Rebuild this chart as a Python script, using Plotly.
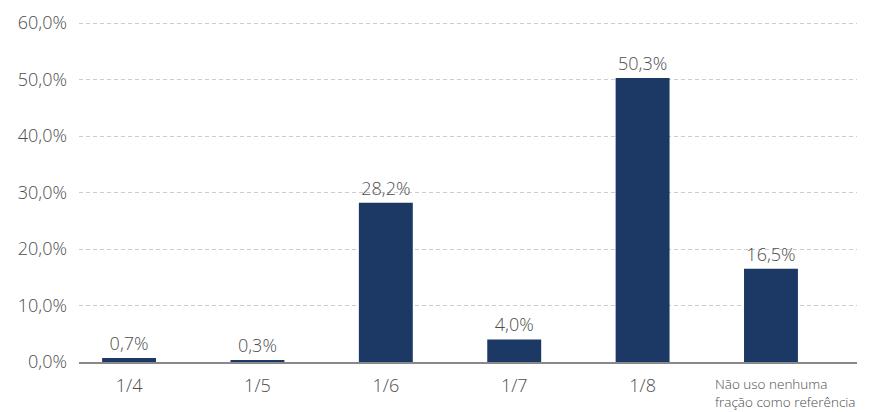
import plotly.graph_objects as go

categories = ["1/4", "1/5", "1/6", "1/7", "1/8", "Não uso nenhuma<br>fração como referência"]
values = [0.7, 0.3, 28.2, 4.0, 50.3, 16.5]
y_ticks = [0, 10, 20, 30, 40, 50, 60]

def pct(v):
    return f"{v:.1f}%".replace(".", ",")

FONT = "Open Sans"
GREY = "#4d4d4d"
# the page body adds an 8px offset, so the figure is 8px smaller each way
W, H = 877, 404

tick_text = categories[:-1] + [""]

fig = go.Figure(go.Bar(
    x=list(range(len(categories))),
    y=values,
    width=0.42,
    marker=dict(color="#1c3966", line=dict(width=0)),
    text=[pct(v) for v in values],
    textposition="outside",
    textfont=dict(family=FONT, size=18, color=GREY, weight=300),
    cliponaxis=False,
))

fig.add_annotation(
    x=len(categories) - 1, xref="x", y=0, yref="paper",
    text=categories[-1], showarrow=False, align="left",
    xanchor="left", yanchor="top", xshift=-58, yshift=-11,
    font=dict(family=FONT, size=13.5, color=GREY, weight=300),
)

fig.update_layout(
    width=W, height=H,
    margin=dict(l=71, r=28, t=14, b=50, autoexpand=False),
    paper_bgcolor="white", plot_bgcolor="white",
    showlegend=False,
    font=dict(family=FONT, size=18, color=GREY, weight=300),
)
fig.update_xaxes(
    tickmode="array", tickvals=list(range(len(categories))), ticktext=tick_text,
    range=[-0.39, 5.67], showgrid=False, zeroline=False, automargin=False,
    showline=True, linecolor="#888888", linewidth=1.5,
    ticks="outside", ticklen=7, tickcolor="rgba(0,0,0,0)",
    tickfont=dict(family=FONT, size=18, color=GREY, weight=300),
)
fig.update_yaxes(
    range=[0, 60.2], tickmode="array", tickvals=y_ticks, ticktext=[pct(t) for t in y_ticks],
    showgrid=True, gridcolor="#cccccc", griddash="4px,3px", gridwidth=1, automargin=False,
    zeroline=False, showline=False, ticks="", ticklabelstandoff=11,
    tickfont=dict(family=FONT, size=18, color=GREY, weight=300),
)

fig.write_html("out.html")
